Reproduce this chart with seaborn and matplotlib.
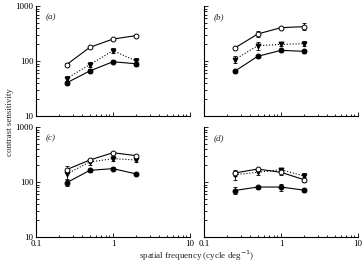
import numpy as np
import pandas as pd
import matplotlib
matplotlib.use("Agg")
import matplotlib.pyplot as plt
import seaborn as sns
from matplotlib.ticker import LogLocator, NullFormatter, FixedLocator, FixedFormatter

sns.set_style("ticks")
plt.rcParams["font.family"] = ["Liberation Serif", "DejaVu Serif"]

freq = [0.25, 0.5, 1, 2]
panels = ["(a)", "(b)", "(c)", "(d)"]

# open circles
open_a = [86, 177, 251, 289]
open_b = [172, 310, 404, 421]
open_c = [168, 251, 341, 301]
open_d = [146, 172, 150, 110]
open_err_a = [5, 8, 10, 10]
open_err_b = [10, 35, 15, 60]
open_err_c = [25, 15, 15, 15]
open_err_d = [20, 10, 15, 12]

# filled triangles (dotted)
tri_a = [48, 86, 154, 100]
tri_b = [106, 190, 200, 207]
tri_c = [140, 231, 266, 251]
tri_d = [136, 150, 168, 128]
tri_err_a = [6, 8, 15, 15]
tri_err_b = [15, 30, 15, 20]
tri_err_c = [25, 25, 25, 20]
tri_err_d = [25, 15, 15, 15]

# filled circles
fill_a = [40, 66, 97, 89]
fill_b = [65, 122, 156, 150]
fill_c = [97, 163, 175, 140]
fill_d = [70, 81, 81, 71]
fill_err_a = [4, 5, 6, 8]
fill_err_b = [5, 8, 8, 8]
fill_err_c = [12, 10, 10, 8]
fill_err_d = [10, 5, 12, 5]

data = [
    (open_a, open_err_a, tri_a, tri_err_a, fill_a, fill_err_a),
    (open_b, open_err_b, tri_b, tri_err_b, fill_b, fill_err_b),
    (open_c, open_err_c, tri_c, tri_err_c, fill_c, fill_err_c),
    (open_d, open_err_d, tri_d, tri_err_d, fill_d, fill_err_d),
]

fig = plt.figure(figsize=(3.62, 2.64), dpi=100)
W, H = 362, 264
boxes = [(36, 6), (204, 6), (36, 127), (204, 127)]
fs = 6.5
ms = 3.5

for i, (x0, y0) in enumerate(boxes):
    ax = fig.add_axes([x0 / W, 1 - (y0 + 110) / H, 154 / W, 110 / H])
    o, oe, t, te, f, fe = data[i]
    for vals, errs in [(t, te), (o, oe), (f, fe)]:
        ax.errorbar(freq, vals, yerr=errs, fmt="none", ecolor="black",
                    elinewidth=0.6, capsize=1.5, capthick=0.6)
    sns.lineplot(x=freq, y=t, ax=ax, color="black", linestyle=":", linewidth=0.8,
                 marker="v", markersize=ms, markerfacecolor="black", markeredgecolor="black")
    sns.lineplot(x=freq, y=f, ax=ax, color="black", linewidth=0.8,
                 marker="o", markersize=ms, markerfacecolor="black", markeredgecolor="black")
    sns.lineplot(x=freq, y=o, ax=ax, color="black", linewidth=0.8,
                 marker="o", markersize=ms, markerfacecolor="white", markeredgecolor="black",
                 markeredgewidth=0.7)
    ax.set_xscale("log")
    ax.set_yscale("log")
    ax.set_xlim(0.1, 10)
    ax.set_ylim(10, 1000)
    sns.despine(ax=ax)
    for s in ["left", "bottom"]:
        ax.spines[s].set_linewidth(0.8)
        ax.spines[s].set_color("black")
    ax.xaxis.set_major_locator(FixedLocator([0.1, 1, 10]))
    ax.xaxis.set_minor_locator(LogLocator(base=10, subs=np.arange(2, 10)))
    ax.yaxis.set_major_locator(FixedLocator([10, 100, 1000]))
    ax.yaxis.set_minor_locator(LogLocator(base=10, subs=np.arange(2, 10)))
    ax.xaxis.set_minor_formatter(NullFormatter())
    ax.yaxis.set_minor_formatter(NullFormatter())
    ax.tick_params(which="both", direction="in", width=0.6, colors="black", labelsize=fs, pad=2)
    ax.tick_params(which="major", length=3)
    ax.tick_params(which="minor", length=1.8)
    if i in (2, 3):
        ax.xaxis.set_major_formatter(FixedFormatter(["0.1", "1", "10"]))
    else:
        ax.set_xticklabels([])
    if i in (0, 2):
        ax.yaxis.set_major_formatter(FixedFormatter(["10", "100", "1000"]))
    else:
        ax.set_yticklabels([])
    ax.text(0.06, 0.9, panels[i], transform=ax.transAxes, fontsize=fs, style="italic",
            ha="left", va="center")
    ax.set_xlabel("")
    ax.set_ylabel("")

fig.text(10 / W, 1 - 122 / H, "contrast sensitivity", rotation=90, ha="center", va="center", fontsize=fs)
fig.text(197 / W, 1 - 256 / H, "spatial frequency (cycle deg$^{-1}$)", ha="center", va="center", fontsize=fs)

fig.savefig("out.png", dpi=100)
